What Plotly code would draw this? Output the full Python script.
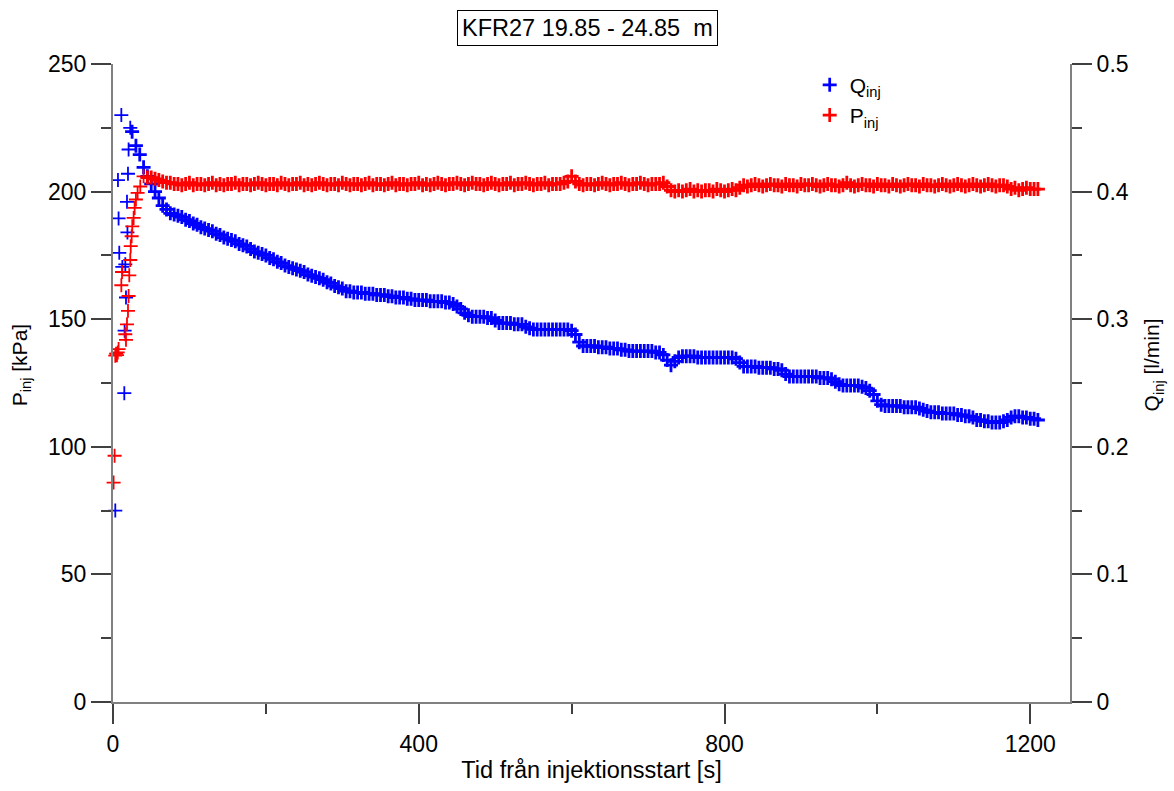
import plotly.graph_objects as go

# ---------------- data ----------------
# early, scattered samples (time in s)
t_q_early = [3.0, 6.5, 7.3, 8.2, 10.9, 12.2, 14.8, 15.2, 16.1, 17.0, 18.3, 18.9, 19.6, 20.4, 22.6]
q_early = [0.150, 0.409, 0.379, 0.352, 0.460, 0.341, 0.242, 0.291, 0.343, 0.317, 0.392, 0.368, 0.414, 0.433, 0.450]

t_p_early = [0.8, 2.1, 3.0, 4.0, 5.2, 6.2, 7.3, 10.9, 11.8, 16.1, 17.0, 18.3, 19.6, 20.4, 21.3,
             22.6, 23.2, 24.4, 25.2, 27.0, 28.3, 30.0, 32.2, 35.7, 40.0]
p_early = [86, 96.5, 135.7, 136.5, 135.9, 137, 138.3, 163.3, 168.5, 144.1, 141.9, 148, 153.3, 159.1, 167.2,
           173.2, 178.6, 182.5, 186.4, 189.7, 193.6, 196.9, 199.5, 202, 206]

# regular part of the record
t_band = [
    25, 30, 35, 40, 45, 50, 55, 60, 65, 70, 75, 80, 85, 90, 95, 100, 105, 110, 115, 120,
    125, 130, 135, 140, 145, 150, 155, 160, 165, 170, 175, 180, 185, 190, 195, 200, 205, 210, 215, 220,
    225, 230, 235, 240, 245, 250, 255, 260, 265, 270, 275, 280, 285, 290, 295, 300, 305, 310, 315, 320,
    325, 330, 335, 340, 345, 350, 355, 360, 365, 370, 375, 380, 385, 390, 395, 400, 405, 410, 415, 420,
    425, 430, 435, 440, 445, 450, 455, 460, 465, 470, 475, 480, 485, 490, 495, 500, 505, 510, 515, 520,
    525, 530, 535, 540, 545, 550, 555, 560, 565, 570, 575, 580, 585, 590, 595, 600, 605, 610, 615, 620,
    625, 630, 635, 640, 645, 650, 655, 660, 665, 670, 675, 680, 685, 690, 695, 700, 705, 710, 715, 720,
    725, 730, 735, 740, 745, 750, 755, 760, 765, 770, 775, 780, 785, 790, 795, 800, 805, 810, 815, 820,
    825, 830, 835, 840, 845, 850, 855, 860, 865, 870, 875, 880, 885, 890, 895, 900, 905, 910, 915, 920,
    925, 930, 935, 940, 945, 950, 955, 960, 965, 970, 975, 980, 985, 990, 995, 1000, 1005, 1010, 1015, 1020,
    1025, 1030, 1035, 1040, 1045, 1050, 1055, 1060, 1065, 1070, 1075, 1080, 1085, 1090, 1095, 1100, 1105, 1110, 1115, 1120,
    1125, 1130, 1135, 1140, 1145, 1150, 1155, 1160, 1165, 1170, 1175, 1180, 1185, 1190, 1195, 1200, 1205, 1210,
]

q_band = [
    0.447, 0.436, 0.429, 0.419, 0.412, 0.406, 0.400, 0.395, 0.389, 0.386, 0.383, 0.382, 0.381, 0.380, 0.378, 0.377, 0.375, 0.374, 0.372, 0.371,
    0.370, 0.369, 0.367, 0.366, 0.364, 0.363, 0.362, 0.361, 0.359, 0.358, 0.357, 0.355, 0.353, 0.352, 0.351, 0.350, 0.348, 0.347, 0.345, 0.344,
    0.342, 0.341, 0.340, 0.339, 0.338, 0.337, 0.335, 0.334, 0.333, 0.332, 0.331, 0.329, 0.328, 0.326, 0.325, 0.324, 0.322, 0.322, 0.321, 0.321,
    0.321, 0.320, 0.320, 0.320, 0.319, 0.319, 0.319, 0.318, 0.318, 0.317, 0.317, 0.317, 0.316, 0.316, 0.315, 0.315, 0.315, 0.315, 0.314, 0.314,
    0.314, 0.314, 0.313, 0.313, 0.312, 0.310, 0.308, 0.305, 0.303, 0.302, 0.302, 0.302, 0.302, 0.301, 0.301, 0.299, 0.297, 0.297, 0.297, 0.297,
    0.296, 0.296, 0.296, 0.294, 0.293, 0.292, 0.292, 0.292, 0.292, 0.292, 0.292, 0.292, 0.292, 0.292, 0.292, 0.291, 0.288, 0.282, 0.279, 0.279,
    0.279, 0.279, 0.278, 0.278, 0.278, 0.277, 0.277, 0.277, 0.276, 0.276, 0.275, 0.275, 0.275, 0.275, 0.275, 0.275, 0.275, 0.274, 0.274, 0.272,
    0.268, 0.264, 0.267, 0.270, 0.271, 0.271, 0.271, 0.271, 0.270, 0.270, 0.270, 0.270, 0.270, 0.270, 0.270, 0.270, 0.270, 0.270, 0.269, 0.266,
    0.263, 0.263, 0.263, 0.263, 0.262, 0.262, 0.262, 0.262, 0.261, 0.261, 0.260, 0.257, 0.255, 0.255, 0.255, 0.255, 0.255, 0.255, 0.255, 0.255,
    0.254, 0.254, 0.254, 0.253, 0.251, 0.249, 0.248, 0.248, 0.248, 0.248, 0.248, 0.247, 0.246, 0.244, 0.241, 0.236, 0.233, 0.232, 0.232, 0.232,
    0.232, 0.232, 0.231, 0.231, 0.231, 0.231, 0.230, 0.229, 0.228, 0.227, 0.227, 0.227, 0.226, 0.226, 0.226, 0.226, 0.225, 0.225, 0.224, 0.224,
    0.223, 0.221, 0.221, 0.220, 0.220, 0.219, 0.219, 0.219, 0.220, 0.221, 0.223, 0.224, 0.224, 0.223, 0.223, 0.222, 0.222, 0.221,
]

# pressure band starts at t = 45 s (t_band[4:])
p_band = [
    205.5, 205.5, 205, 204.5, 204, 203.5, 203.5, 203, 203, 202.5, 203, 203.5, 202.5, 203, 203, 202.5,
    203, 203.5, 202.5, 203, 202.5, 203, 203, 203.5, 202.5, 203, 203, 202.5, 203, 203.5, 203, 202.5, 203, 203, 202.5, 203.5,
    203, 202.5, 203, 203, 203.5, 202.5, 203, 202.5, 203, 203.5, 203, 202.5, 203, 203, 202.5, 203.5, 203, 202.5, 203, 203,
    202.5, 203, 203.5, 202.5, 203, 203, 202.5, 203, 203.5, 202.5, 203, 203, 202.5, 203, 203, 203.5, 202.5, 203, 202.5, 203,
    203.5, 203, 202.5, 203, 203, 203.5, 203, 202.5, 203, 203.5, 203, 203, 202.5, 203, 203.5, 203, 202.5, 203, 203, 203.5,
    202.5, 203, 203, 203.5, 203, 202.5, 203, 203, 203.5, 202.5, 203, 203, 203, 203.5, 204, 206, 204, 203, 202.5, 203,
    203, 202.5, 203, 203.5, 203, 202.5, 203, 203, 203.5, 203, 202.5, 203, 203, 203.5, 203, 202.5, 203, 203, 203, 203.5,
    202, 200.5, 200, 200.5, 200, 200.5, 201, 200, 200.5, 200, 200.5, 200.5, 200, 201, 200.5, 200, 200.5, 201, 200.5, 201.5,
    202.5, 202, 202.5, 203, 202.5, 202, 202.5, 203, 202.5, 202.5, 202, 203, 202.5, 202.5, 202, 203, 202.5, 202.5, 203, 202.5,
    202, 202.5, 203, 202.5, 202.5, 202, 202.5, 203.5, 202.5, 202, 202.5, 203, 202.5, 202.5, 202, 203, 202.5, 202.5, 202, 203,
    202.5, 202, 202.5, 203, 202.5, 202.5, 202, 203, 202.5, 202.5, 202, 202.5, 203, 202.5, 202, 202.5, 203, 202.5, 202, 202.5,
    203, 202.5, 202, 202.5, 203, 202.5, 202, 202.5, 202.5, 202, 201, 201.5, 200.5, 201, 201.5, 201, 201, 201,
]

t_q = t_q_early + t_band
q_all = q_early + q_band
t_p = t_p_early + t_band[4:]
p_all = p_early + p_band

x_ticks = [0, 400, 800, 1200]
title_text = "KFR27 19.85 - 24.85\u00a0\u00a0m"

FONT = "Arial, Liberation Sans, sans-serif"
AX_LINE = "#808080"
TICK_C = "#404040"

# sparse early samples drawn with thin strokes, the dense record with heavier ones
q_lw = [1.8] * len(q_early) + [2.8] * len(q_band)
p_lw = [1.8] * len(p_early) + [2.8] * len(p_band)

fig = go.Figure()
fig.add_trace(go.Scatter(
    x=t_q, y=q_all, yaxis="y", mode="markers", name="Q<sub>inj</sub>",
    marker=dict(symbol="cross-thin", size=10, color="#0000ff",
                line=dict(width=q_lw, color="#0000ff")),
    cliponaxis=False,
))
fig.add_trace(go.Scatter(
    x=t_p, y=p_all, yaxis="y2", mode="markers", name="P<sub>inj</sub>",
    marker=dict(symbol="cross-thin", size=10, color="#ff0000",
                line=dict(width=p_lw, color="#ff0000")),
    cliponaxis=False,
))

fig.update_layout(
    width=1174, height=791,
    margin=dict(l=113, r=104, t=64, b=87),
    paper_bgcolor="white", plot_bgcolor="white",
    font=dict(family=FONT, size=23, color="black"),
    showlegend=True,
    legend=dict(x=0.728, y=0.999, xanchor="left", yanchor="top",
                bgcolor="rgba(0,0,0,0)", font=dict(size=21), tracegroupgap=0),
    xaxis=dict(
        range=[0, 1252], tickvals=x_ticks, ticks="outside", ticklen=20, tickwidth=1.5,
        tickcolor=TICK_C, showline=True, linecolor=AX_LINE, linewidth=2,
        showgrid=False, zeroline=False,
        minor=dict(dtick=200, tick0=0, ticks="outside", ticklen=10, tickwidth=1.5, tickcolor=TICK_C, showgrid=False),
        title=dict(text="Tid från injektionsstart [s]", standoff=6, font=dict(size=23.5)),
        tickfont=dict(size=23),
    ),
    yaxis=dict(
        side="right", range=[0, 0.5], dtick=0.1, tick0=0, tickformat=".1~f",
        ticks="outside", ticklen=20, tickwidth=1.5, tickcolor=TICK_C,
        showline=True, linecolor=AX_LINE, linewidth=2, showgrid=False, zeroline=False,
        minor=dict(dtick=0.05, ticks="outside", ticklen=10, tickwidth=1.5, tickcolor=TICK_C, showgrid=False),
        tickfont=dict(size=23),
    ),
    yaxis2=dict(
        side="left", overlaying="y", range=[0, 250], dtick=50, tick0=0,
        ticks="outside", ticklen=20, tickwidth=1.5, tickcolor=TICK_C,
        showline=True, linecolor=AX_LINE, linewidth=2, showgrid=False, zeroline=False,
        minor=dict(dtick=25, ticks="outside", ticklen=10, tickwidth=1.5, tickcolor=TICK_C, showgrid=False),
        tickfont=dict(size=23),
    ),
    annotations=[
        dict(text=title_text, xref="paper", yref="paper", x=0.496, y=1.056,
             xanchor="center", yanchor="middle", showarrow=False,
             font=dict(size=23.5, color="black"), bordercolor="black", borderwidth=1,
             borderpad=4, bgcolor="white"),
        dict(text="P<sub>inj</sub> [kPa]", xref="paper", yref="paper", x=-0.096, y=0.528,
             xanchor="center", yanchor="middle", textangle=-90, showarrow=False,
             font=dict(size=21, color="black")),
        dict(text="Q<sub>inj</sub> [l/min]", xref="paper", yref="paper", x=1.087, y=0.528,
             xanchor="center", yanchor="middle", textangle=-90, showarrow=False,
             font=dict(size=21, color="black")),
    ],
)

fig.write_html("out.html")
